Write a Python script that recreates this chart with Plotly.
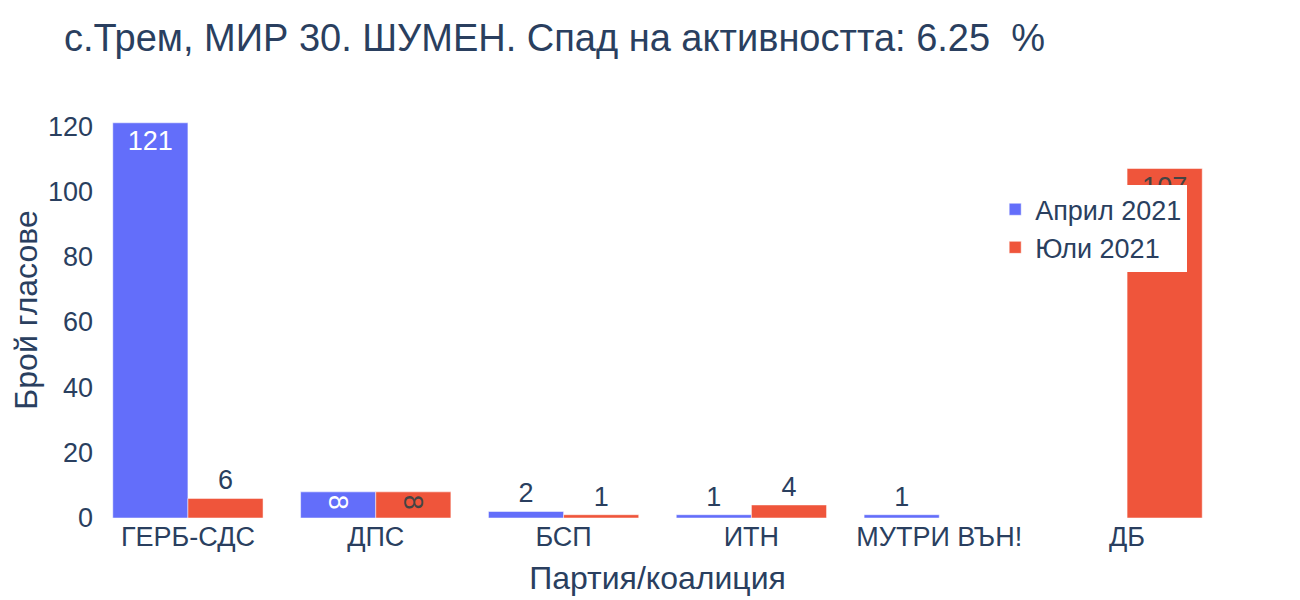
import plotly.graph_objects as go

parties = ["ГЕРБ-СДС", "ДПС", "БСП", "ИТН", "МУТРИ ВЪН!", "ДБ"]
april = [121, 8, 2, 1, 1, 0]
july = [6, 8, 1, 4, 0, 107]

def labels(vals):
    return [str(v) if v else "" for v in vals]

fig = go.Figure()
fig.add_trace(go.Bar(name="Април 2021", x=parties, y=april, text=labels(april),
                     textposition="auto", marker_color="#636efa"))
fig.add_trace(go.Bar(name="Юли 2021", x=parties, y=july, text=labels(july),
                     textposition="auto", marker_color="#EF553B"))

fig.update_layout(
    template="plotly_white",
    width=1300, height=600,
    barmode="group",
    font=dict(family="Liberation Sans, Arial, sans-serif", size=27, color="#2a3f5f"),
    title=dict(text="с.Трем, МИР 30. ШУМЕН. Спад на активността: 6.25  %", x=0.043,
               y=0.95, yanchor="middle", font=dict(size=38)),
    margin=dict(l=86, r=87, t=94, b=90, autoexpand=False),
    xaxis=dict(title=dict(text="Партия/коалиция", font=dict(size=32)), showgrid=False,
               automargin=False),
    yaxis=dict(title=dict(text="Брой гласове", font=dict(size=32), standoff=22),
               showgrid=False, zeroline=False, automargin=True),
    legend=dict(x=0.970, y=0.80, xanchor="right", yanchor="top", bgcolor="white"),
)
fig.write_html("out.html")
